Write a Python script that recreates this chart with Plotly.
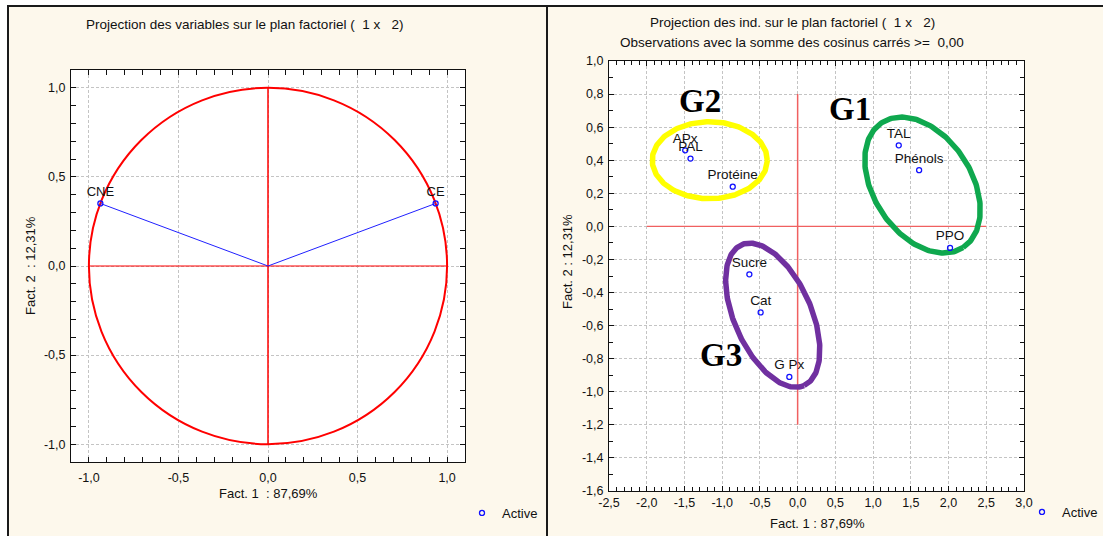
import numpy as np
import plotly.graph_objects as go

W, H = 1103, 536

# ---------------- data ----------------
var_names = ["CNE", "CE"]
var_f1 = [-0.936, 0.936]
var_f2 = [0.351, 0.351]

ind_names = ["APx", "PAL", "Protéine", "TAL", "Phénols", "PPO", "Sucre", "Cat", "G Px"]
ind_f1 = [-1.49, -1.42, -0.86, 1.34, 1.61, 2.02, -0.64, -0.49, -0.11]
ind_f2 = [0.46, 0.41, 0.24, 0.49, 0.34, -0.13, -0.29, -0.52, -0.91]

left_tick_vals = [-1.0, -0.5, 0.0, 0.5, 1.0]
left_tick_labels = ["-1,0", "-0,5", "0,0", "0,5", "1,0"]

right_x_tick_vals = [-2.5, -2.0, -1.5, -1.0, -0.5, 0.0, 0.5, 1.0, 1.5, 2.0, 2.5, 3.0]
right_x_tick_labels = ["-2,5", "-2,0", "-1,5", "-1,0", "-0,5", "0,0", "0,5", "1,0",
                       "1,5", "2,0", "2,5", "3,0"]
right_y_tick_vals = [1.0, 0.8, 0.6, 0.4, 0.2, 0.0, -0.2, -0.4, -0.6, -0.8, -1.0, -1.2, -1.4, -1.6]
right_y_tick_labels = ["1,0", "0,8", "0,6", "0,4", "0,2", "0,0", "-0,2", "-0,4", "-0,6",
                       "-0,8", "-1,0", "-1,2", "-1,4", "-1,6"]

# hand-drawn group ellipses (center in data units, semi-axes in pixels, tilt in degrees)
group_names = ["G1", "G2", "G3"]
group_colors = ["#0FA84E", "#FFFF00", "#7030A0"]
group_cx = [1.655, -1.165, -0.33]
group_cy = [0.25, 0.40, -0.537]
group_a_px = [74.5, 57.5, 77.0]
group_b_px = [49.0, 38.5, 38.5]
group_angle = [-57.0, 0.0, -66.0]
group_label_x = [0.70, -1.30, -1.01]
group_label_y = [0.71, 0.76, -0.78]

# ---------------- layout geometry (pixels) ----------------
L_x0, L_x1, L_ytop, L_ybot = 71, 465, 70, 462
R_x0, R_x1, R_ytop, R_ybot = 609, 1024, 61, 491
L_range = [-1.1, 1.1]
R_xrange = [-2.5, 3.0]
R_yrange = [-1.6, 1.0]

def px(x):
    return x / W

def py(y):
    return (H - y) / H

sx = (R_x1 - R_x0) / (R_xrange[1] - R_xrange[0])
sy = (R_ybot - R_ytop) / (R_yrange[1] - R_yrange[0])

FONT = "Liberation Sans, Arial, sans-serif"
BLUE = "#1010FF"

fig = go.Figure()

# ---------- left panel: correlation circle ----------
for n, x, y in zip(var_names, var_f1, var_f2):
    fig.add_trace(go.Scatter(x=[0, x], y=[0, y], mode="lines",
                             line=dict(color="#2020FF", width=1),
                             xaxis="x", yaxis="y", showlegend=False, hoverinfo="skip"))
fig.add_trace(go.Scatter(x=var_f1, y=var_f2, mode="markers+text", text=var_names,
                         textposition="top center",
                         textfont=dict(family=FONT, size=13, color="#111"),
                         marker=dict(symbol="circle-open", size=5, color=BLUE,
                                     line=dict(width=1.3, color=BLUE)),
                         name="Active", xaxis="x", yaxis="y", legend="legend"))

# ---------- right panel: individuals ----------
for i in range(len(group_names)):
    t = np.linspace(0, 2 * np.pi, 241)
    th = np.radians(group_angle[i])
    dx = group_a_px[i] * np.cos(t) * np.cos(th) - group_b_px[i] * np.sin(t) * np.sin(th)
    dy = group_a_px[i] * np.cos(t) * np.sin(th) + group_b_px[i] * np.sin(t) * np.cos(th)
    fig.add_trace(go.Scatter(x=group_cx[i] + dx / sx, y=group_cy[i] + dy / sy,
                             mode="lines", line=dict(color=group_colors[i], width=5.5),
                             xaxis="x2", yaxis="y2", showlegend=False, hoverinfo="skip"))

fig.add_trace(go.Scatter(x=ind_f1, y=ind_f2, mode="markers+text", text=ind_names,
                         textposition="top center",
                         textfont=dict(family=FONT, size=13.5, color="#111"),
                         marker=dict(symbol="circle-open", size=5, color=BLUE,
                                     line=dict(width=1.3, color=BLUE)),
                         name="Active", xaxis="x2", yaxis="y2", legend="legend2"))

shapes = []
# left: unit circle and axes lines
shapes.append(dict(type="circle", xref="x", yref="y", x0=-1, x1=1, y0=-1, y1=1,
                   line=dict(color="#FF0000", width=2), layer="between"))
shapes.append(dict(type="line", xref="x", yref="y", x0=-1, x1=1, y0=0, y1=0,
                   line=dict(color="#FF0000", width=1.2), layer="between"))
shapes.append(dict(type="line", xref="x", yref="y", x0=0, x1=0, y0=-1, y1=1,
                   line=dict(color="#FF0000", width=1.5), layer="between"))
# right: axes lines
shapes.append(dict(type="line", xref="x2", yref="y2", x0=-2.0, x1=2.5, y0=0, y1=0,
                   line=dict(color="#F06060", width=1.2), layer="between"))
shapes.append(dict(type="line", xref="x2", yref="y2", x0=0, x1=0, y0=-1.2, y1=0.8,
                   line=dict(color="#F06060", width=1.5), layer="between"))

# outer white strips and frame
shapes.append(dict(type="rect", xref="paper", yref="paper", x0=0, x1=px(7), y0=0, y1=1,
                   fillcolor="white", line=dict(width=0), layer="above"))
shapes.append(dict(type="rect", xref="paper", yref="paper", x0=0, x1=1, y0=py(5), y1=1,
                   fillcolor="white", line=dict(width=0), layer="above"))
shapes.append(dict(type="line", xref="paper", yref="paper", x0=px(8), x1=px(8), y0=0, y1=py(5),
                   line=dict(color="#1a1a1a", width=2), layer="above"))
shapes.append(dict(type="line", xref="paper", yref="paper", x0=px(7), x1=1, y0=py(6), y1=py(6),
                   line=dict(color="#1a1a1a", width=2), layer="above"))
shapes.append(dict(type="line", xref="paper", yref="paper", x0=px(547), x1=px(547), y0=0, y1=py(5),
                   line=dict(color="#1a1a1a", width=2), layer="above"))

annotations = []
def ann(text, x, y, size=13, angle=0, family=FONT, xanchor="center"):
    annotations.append(dict(text=text, x=px(x), y=py(y), xref="paper", yref="paper",
                            showarrow=False, textangle=angle, xanchor=xanchor, yanchor="middle",
                            font=dict(family=family, size=size, color="#111")))

ann("Projection des variables sur le plan factoriel (  1 x   2)", 244, 24, size=13.5)
ann("Fact. 1  : 87,69%", 268, 494)
ann("Fact. 2  : 12,31%", 30, 266, angle=-90)
ann("Projection des ind. sur le plan factoriel (  1 x   2)", 792, 23, size=13.5)
ann("Observations avec la somme des cosinus carrés >=  0,00", 792, 43, size=13.5)
ann("Fact. 1 : 87,69%", 817, 523)
ann("Fact. 2 : 12,31%", 567, 262, angle=-90)

for g, gx, gy in zip(group_names, group_label_x, group_label_y):
    annotations.append(dict(text="<b>" + g + "</b>", x=gx, y=gy, xref="x2", yref="y2",
                            showarrow=False, xanchor="center", yanchor="middle",
                            font=dict(family="Liberation Serif, Times New Roman, serif",
                                      size=33, color="black")))

axis_common = dict(showline=True, linecolor="#111", linewidth=1, mirror="ticks",
                   ticks="inside", ticklen=5, tickwidth=1, tickcolor="#111",
                   showgrid=True, gridcolor="#c4c4c4", griddash="3px,2px", gridwidth=1,
                   zeroline=False, tickmode="array",
                   tickfont=dict(family=FONT, size=12.5, color="#111"))

fig.update_layout(
    width=W, height=H,
    margin=dict(l=0, r=0, t=0, b=0, pad=0, autoexpand=False),
    paper_bgcolor="#FDF8EC",
    plot_bgcolor="white",
    showlegend=True,
    xaxis=dict(domain=[px(L_x0), px(L_x1)], range=L_range, anchor="y",
               tickvals=left_tick_vals, ticktext=left_tick_labels, ticklabelstandoff=4,
               minor=dict(tickmode="linear", tick0=0, dtick=0.1, ticks="inside", ticklen=5,
                          tickcolor="#111", showgrid=False),
               **axis_common),
    yaxis=dict(domain=[py(L_ybot), py(L_ytop)], range=L_range, anchor="x",
               tickvals=left_tick_vals, ticktext=left_tick_labels, ticklabelstandoff=2,
               minor=dict(tickmode="linear", tick0=0, dtick=0.1, ticks="inside", ticklen=5,
                          tickcolor="#111", showgrid=False),
               **axis_common),
    xaxis2=dict(domain=[px(R_x0), px(R_x1)], range=R_xrange, anchor="y2",
                tickvals=right_x_tick_vals, ticktext=right_x_tick_labels, ticklabelstandoff=0,
                minor=dict(tickmode="linear", tick0=0, dtick=0.1, ticks="inside", ticklen=4,
                           tickcolor="#111", showgrid=False),
                **axis_common),
    yaxis2=dict(domain=[py(R_ybot), py(R_ytop)], range=R_yrange, anchor="x2",
                tickvals=right_y_tick_vals, ticktext=right_y_tick_labels, ticklabelstandoff=2,
                minor=dict(tickmode="linear", tick0=0, dtick=0.1, ticks="inside", ticklen=4,
                           tickcolor="#111", showgrid=False),
                **axis_common),
    legend=dict(x=px(462), y=py(513), xanchor="left", yanchor="middle",
                bgcolor="rgba(0,0,0,0)", font=dict(family=FONT, size=13, color="#111"),
                itemwidth=30),
    legend2=dict(x=px(1022), y=py(512), xanchor="left", yanchor="middle",
                 bgcolor="rgba(0,0,0,0)", font=dict(family=FONT, size=13, color="#111"),
                 itemwidth=30),
    shapes=shapes,
    annotations=annotations,
)

fig.write_html("out.html", config={"displayModeBar": False},
               post_script="document.body.style.margin='0';document.body.style.overflow='hidden';")
